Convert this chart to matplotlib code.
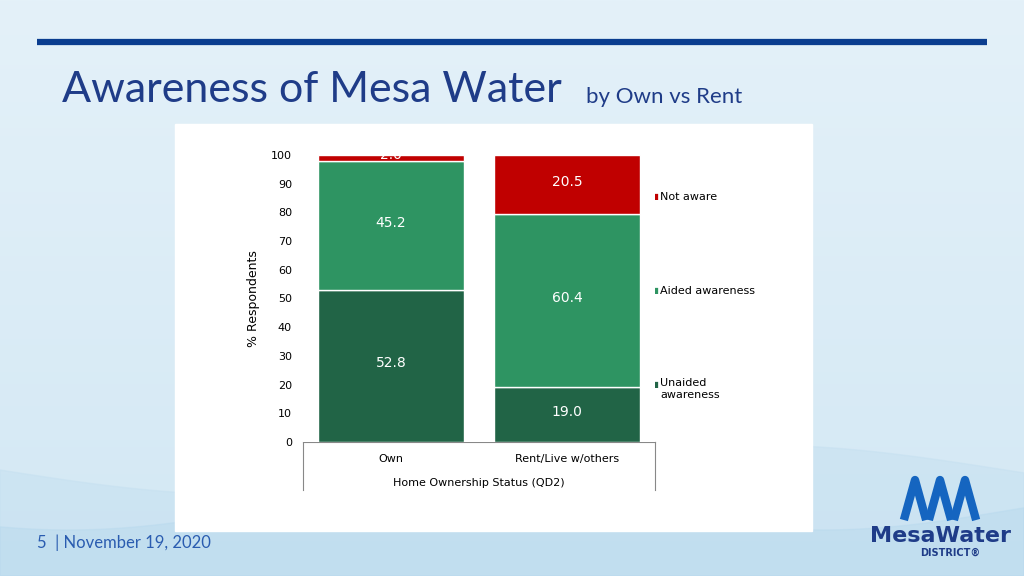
import matplotlib
matplotlib.use('Agg')
import matplotlib.pyplot as plt
import numpy as np

categories = ["Own", "Rent/Live w/others"]
unaided = [52.8, 19.0]
aided = [45.2, 60.4]
not_aware = [2.0, 20.5]
series_names = ["Unaided\nawareness", "Aided awareness", "Not aware"]
colors = ["#216446", "#2e9462", "#c00000"]

W, H = 1024, 576
fig = plt.figure(figsize=(W / 100, H / 100), dpi=100)

# background
bg = fig.add_axes([0, 0, 1, 1])
bg.set_xlim(0, W)
bg.set_ylim(H, 0)
bg.axis('off')
grad = np.linspace(0, 1, 256).reshape(-1, 1)
bg.imshow(grad, extent=[0, W, H, 0], cmap=matplotlib.colors.LinearSegmentedColormap.from_list(
    'bg', ['#e4f1f9', '#d3e8f4']), aspect='auto')
xs = np.linspace(0, W, 200)
bg.fill_between(xs, H, 470 + 25 * np.sin(xs / 160), color='#c7e1f1', alpha=0.6)
bg.fill_between(xs, H, 510 + 20 * np.sin(xs / 120 + 1), color='#b9daee', alpha=0.5)
bg.plot([37, 987], [42, 42], color='#0a3d8f', lw=4.5, solid_capstyle='butt')
bg.add_patch(plt.Rectangle((175, 124), 637, 407, color='white', zorder=2))
bg.text(62, 90, "Awareness of Mesa Water", fontsize=31, color='#1f3c88', va='center', family='Lato')
bg.text(586, 97, "by Own vs Rent", fontsize=16, color='#1f3c88', va='center', family='Lato')
bg.text(37, 543, "5  | November 19, 2020", fontsize=12, color='#2a5cb0', va='center', family='Lato')
bg.text(940, 536, "MesaWater", fontsize=16, color='#1f3c88', ha='center', va='center', weight='bold')
bg.text(950, 553, "DISTRICT\u00ae", fontsize=7, color='#1f3c88', ha='center', va='center', weight='bold')
for i in range(3):
    bg.plot([905 + i * 25, 915 + i * 25, 925 + i * 25], [516, 480, 516], color='#1565c0', lw=6)

# chart
ax = fig.add_axes([303 / W, (H - 442) / H, 352 / W, 287 / H])
x = np.arange(len(categories))
bw = 0.835
bottom = np.zeros(len(categories))
for vals, col in zip([unaided, aided, not_aware], colors):
    ax.bar(x, vals, bw, bottom=bottom, color=col, edgecolor='white', linewidth=1)
    for xi, b, v in zip(x, bottom, vals):
        ax.text(xi, b + v / 2 + 1, f"{v:.1f}", ha='center', va='center',
                color='white', fontsize=10, clip_on=True)
    bottom += vals
ax.set_xlim(-0.5, 1.5)
ax.set_ylim(0, 100)
ax.set_yticks(range(0, 101, 10))
ax.tick_params(axis='y', length=0, labelsize=8, pad=8)
ax.set_xticks([])
for s in ax.spines.values():
    s.set_visible(False)
ax.set_ylabel("% Respondents", fontsize=9, labelpad=8)

# category box
for xi, lab in zip(x, categories):
    bg.text(391 + xi * 176, 459, lab, fontsize=8, ha='center', va='center', zorder=3)
bg.plot([303, 655], [442, 442], color='#888888', lw=0.8, zorder=3)
bg.plot([303, 303], [442, 490], color='#888888', lw=0.8, zorder=3)
bg.plot([655, 655], [442, 490], color='#888888', lw=0.8, zorder=3)
bg.text(479, 483, "Home Ownership Status (QD2)", fontsize=8, ha='center', va='center', zorder=3)

# legend
for (yy, name, col) in [(197, series_names[2], colors[2]), (291, series_names[1], colors[1]),
                        (384, series_names[0], colors[0])]:
    bg.text(650, yy, "\u25a0", fontsize=6, color=col, va='center', zorder=4)
    if '\n' in name:
        bg.text(660, yy - 6, name, fontsize=8, va='top', zorder=3, linespacing=1.3)
    else:
        bg.text(660, yy, name, fontsize=8, va='center', zorder=3)

fig.savefig('out.png', dpi=100)
